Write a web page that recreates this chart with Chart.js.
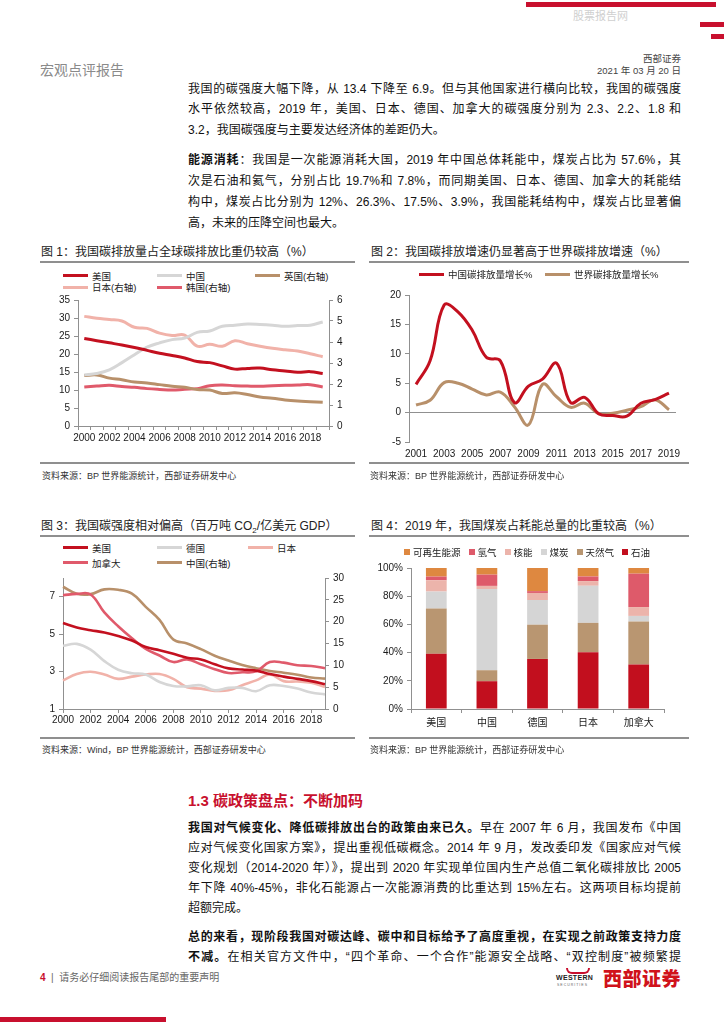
<!DOCTYPE html>
<html>
<head>
<meta charset="utf-8">
<script src="https://cdn.jsdelivr.net/npm/chart.js@4.4.1/dist/chart.umd.min.js"></script>
<style>
body { margin:0; width:724px; height:1024px; position:relative; background:#fff; overflow:hidden;
  font-family:"Liberation Sans","Noto Sans CJK SC",sans-serif; color:#111; }
.abs { position:absolute; }
.ln { position:absolute; left:188px; width:493px; height:20px; line-height:20px; font-size:12px;
  white-space:nowrap; text-align:justify; text-align-last:justify; }
.ln.last { text-align-last:left; }
.ttl { position:absolute; font-size:12px; color:#222; line-height:14px; white-space:nowrap; }
.rule { position:absolute; height:2px; background:#8f8f8f; }
.src { position:absolute; font-size:9px; color:#333; white-space:nowrap; }
canvas { position:absolute; }
.lg { display:flex; align-items:center; font-size:9.5px; color:#222; white-space:nowrap; }
.lg i { display:inline-block; width:25px; height:3px; margin-right:4px; }
.sq i { width:6px; height:6px; margin-right:3px; }
</style>
</head>
<body>

<!-- header -->
<div class="abs" style="left:526px;top:2px;width:190px;height:5px;background:#c8102e"></div>
<div class="abs" style="left:573px;top:7px;font-size:11px;color:#cfcfcf">股票报告网</div>
<div class="abs" style="left:700px;top:22px;width:24px;height:5px;background:#c8102e"></div>
<div class="abs" style="left:711px;top:34px;width:13px;height:5px;background:#c8102e"></div>
<div class="abs" style="left:40px;top:59px;font-size:14px;color:#8a8a8a">宏观点评报告</div>
<div class="abs" style="right:43px;top:51px;font-size:9.5px;color:#444">西部证券</div>
<div class="abs" style="right:43px;top:63px;font-size:9.5px;color:#444">2021 年 03 月 20 日</div>

<!-- paragraphs top -->
<div class="ln" style="top:79px">我国的碳强度大幅下降，从 13.4 下降至 6.9。但与其他国家进行横向比较，我国的碳强度</div>
<div class="ln" style="top:99px">水平依然较高，2019 年，美国、日本、德国、加拿大的碳强度分别为 2.3、2.2、1.8 和</div>
<div class="ln last" style="top:120px">3.2，我国碳强度与主要发达经济体的差距仍大。</div>
<div class="ln" style="top:150px"><b>能源消耗</b>：我国是一次能源消耗大国，2019 年中国总体耗能中，煤炭占比为 57.6%，其</div>
<div class="ln" style="top:171px">次是石油和氦气，分别占比 19.7%和 7.8%，而同期美国、日本、德国、加拿大的耗能结</div>
<div class="ln" style="top:192px">构中，煤炭占比分别为 12%、26.3%、17.5%、3.9%，我国能耗结构中，煤炭占比显著偏</div>
<div class="ln last" style="top:213px">高，未来的压降空间也最大。</div>

<!-- figure 1 -->
<div class="ttl" style="left:41px;top:245px">图 1：我国碳排放量占全球碳排放比重仍较高（%）</div>
<div class="rule" style="left:40px;top:261px;width:315px"></div>
<div id="lg1" class="abs" style="left:63px;top:270px;display:grid;grid-template-columns:94px 98px auto;grid-auto-rows:11.5px"></div>
<canvas id="c1" width="340" height="170" style="left:30px;top:290px"></canvas>
<div class="rule" style="left:40px;top:462px;width:315px"></div>
<div class="src" style="left:42px;top:469px">资料来源：BP 世界能源统计，西部证券研发中心</div>

<!-- figure 2 -->
<div class="ttl" style="left:371px;top:245px">图 2：我国碳排放增速仍显著高于世界碳排放增速（%）</div>
<div class="rule" style="left:369px;top:261px;width:320px"></div>
<div id="lg2" class="abs" style="left:419px;top:268px;display:grid;grid-template-columns:126px auto;grid-auto-rows:12px"></div>
<canvas id="c2" width="320" height="185" style="left:370px;top:285px"></canvas>
<div class="rule" style="left:369px;top:462px;width:320px"></div>
<div class="src" style="left:370px;top:469px">资料来源：BP 世界能源统计，西部证券研发中心</div>

<!-- figure 3 -->
<div class="ttl" style="left:41px;top:519px">图 3：我国碳强度相对偏高（百万吨 CO<sub style="font-size:8px">2</sub>/亿美元 GDP）</div>
<div class="rule" style="left:40px;top:535px;width:315px"></div>
<div id="lg3" class="abs" style="left:63px;top:540px;display:grid;grid-template-columns:94px 91px auto;grid-auto-rows:15px"></div>
<canvas id="c3" width="340" height="160" style="left:30px;top:568px"></canvas>
<div class="rule" style="left:40px;top:737px;width:315px"></div>
<div class="src" style="left:42px;top:743px">资料来源：Wind，BP 世界能源统计，西部证券研发中心</div>

<!-- figure 4 -->
<div class="ttl" style="left:371px;top:519px">图 4：2019 年，我国煤炭占耗能总量的比重较高（%）</div>
<div class="rule" style="left:369px;top:535px;width:320px"></div>
<div id="lg4" class="abs" style="left:404px;top:546px;display:flex;gap:8px;height:11px"></div>
<canvas id="c4" width="330" height="175" style="left:360px;top:558px"></canvas>
<div class="rule" style="left:369px;top:737px;width:320px"></div>
<div class="src" style="left:370px;top:743px">资料来源：BP 世界能源统计，西部证券研发中心</div>

<!-- section 1.3 -->
<div class="abs" style="left:188px;top:789px;font-size:15px;font-weight:bold;color:#c8102e">1.3 碳政策盘点：不断加码</div>
<div class="ln" style="top:818px"><b>我国对气候变化、降低碳排放出台的政策由来已久。</b>早在 2007 年 6 月，我国发布《中国</div>
<div class="ln" style="top:838px">应对气候变化国家方案》，提出重视低碳概念。2014 年 9 月，发改委印发《国家应对气候</div>
<div class="ln" style="top:858px">变化规划（2014-2020 年）》，提出到 2020 年实现单位国内生产总值二氧化碳排放比 2005</div>
<div class="ln" style="top:878px">年下降 40%-45%，非化石能源占一次能源消费的比重达到 15%左右。这两项目标均提前</div>
<div class="ln last" style="top:898px">超额完成。</div>
<div class="ln" style="top:927px"><b>总的来看，现阶段我国对碳达峰、碳中和目标给予了高度重视，在实现之前政策支持力度</b></div>
<div class="ln" style="top:947px"><b>不减。</b>在相关官方文件中，“四个革命、一个合作”能源安全战略、“双控制度”被频繁提</div>

<!-- footer -->
<div class="abs" style="left:40px;top:969px;font-size:10px;color:#666;white-space:nowrap"><b style="color:#c8102e">4</b> &nbsp;|&nbsp; 请务必仔细阅读报告尾部的重要声明</div>
<div class="abs" style="left:566px;top:968px;width:20px;height:4px;border:2.5px solid #c8102e;border-top:none;border-radius:0 0 10px 10px"></div>
<div class="abs" style="left:556px;top:974px;font-size:7px;font-weight:bold;color:#222;letter-spacing:0.3px">WESTERN</div>
<div class="abs" style="left:557px;top:983px;font-size:3.5px;color:#666;letter-spacing:1px">SECURITIES</div>
<div class="abs" style="left:603px;top:964px;font-size:19px;font-weight:900;color:#d0121b;letter-spacing:0.5px">西部证券</div>
<div class="abs" style="left:0;top:1017px;width:166px;height:5px;background:#c8102e"></div>

<script>
const RED = '#c3101f';
const GRAY = '#d6d6d6';
const TAN = '#b8906a';
const PINK = '#f1b2a9';
const ROSE = '#e05a6b';
const ORANGE = '#de8840';
const AX = '#909090';

// 图1 碳排放量占全球比重（%），左轴美国/中国，右轴英国/日本/韩国
const years = ['2000','2001','2002','2003','2004','2005','2006','2007','2008','2009',
  '2010','2011','2012','2013','2014','2015','2016','2017','2018','2019'];
const usShare = [24.3,23.7,23.1,22.5,21.8,21.0,20.2,19.6,18.9,17.9,17.6,16.7,15.8,16.0,16.1,15.6,15.3,14.9,15.1,14.6];
const chinaShare = [14.2,14.6,15.6,17.6,19.8,21.9,23.1,24.0,24.4,26.0,26.4,27.7,28.0,28.3,28.2,28.0,27.7,27.9,28.0,28.9];
const ukShare = [2.40,2.43,2.28,2.20,2.09,2.05,1.97,1.89,1.84,1.74,1.71,1.55,1.58,1.50,1.38,1.32,1.24,1.19,1.16,1.13];
const japanShare = [5.22,5.13,5.07,5.00,4.70,4.65,4.42,4.31,4.33,3.80,3.89,3.80,4.06,3.92,3.80,3.70,3.63,3.57,3.44,3.30];
const koreaShare = [1.86,1.90,1.94,1.88,1.84,1.78,1.74,1.71,1.75,1.78,1.92,1.95,1.92,1.90,1.89,1.92,1.94,1.95,1.97,1.86];

// 图2 碳排放量增速（%）
const growthYears = ['2001','2002','2003','2004','2005','2006','2007','2008','2009','2010',
  '2011','2012','2013','2014','2015','2016','2017','2018','2019'];
const chinaGrowth = [4.8,8.8,18.3,17.1,14.0,9.4,8.8,1.7,4.5,5.7,8.4,1.7,2.6,-0.2,-0.5,-0.6,1.6,2.2,3.3];
const worldGrowth = [1.3,2.1,5.1,5.0,4.0,3.0,3.5,1.0,-2.1,4.8,2.7,0.9,1.6,-0.2,-0.1,0.4,1.0,2.2,0.5];

// 图3 碳强度（百万吨CO2/亿美元GDP）
const usInt = [5.59,5.35,5.21,5.09,4.90,4.66,4.31,4.14,3.95,3.74,3.65,3.39,3.17,3.11,3.05,2.87,2.73,2.61,2.49,2.32];
const deInt = [4.38,4.48,4.17,3.56,3.10,2.91,2.84,2.44,2.23,2.21,2.27,2.00,2.13,2.13,1.95,2.27,2.23,2.09,1.88,1.78];
const jpInt = [2.53,2.87,2.99,2.84,2.61,2.73,2.84,2.87,2.61,2.16,2.09,1.97,2.00,2.27,2.53,2.84,2.49,2.47,2.40,2.18];
const caInt = [7.08,7.15,7.12,6.16,5.42,4.78,4.21,3.86,3.51,3.65,3.39,3.13,2.92,2.96,3.01,3.51,3.48,3.34,3.30,3.18];
const cnInt = [28.0,26.4,26.3,27.4,27.3,26.4,23.4,20.4,15.9,15.0,13.7,12.2,11.1,10.1,9.35,8.7,8.3,7.85,7.2,6.96];
const intTicks = [1,3,5,7];

// 图4 2019年一次能源结构（%）
const countries = ['美国','中国','德国','日本','加拿大'];
const oil = [39.1,19.7,35.5,40.3,31.5];
const gas = [32.2,7.8,24.3,20.8,30.6];
const coal = [12.0,57.6,17.5,26.3,3.9];
const nuclear = [8.0,2.2,5.0,3.3,6.3];
const hydro = [2.6,8.0,1.3,3.3,23.7];
const renew = [6.1,4.7,16.4,6.0,4.0];

Chart.defaults.font.family = '"Liberation Sans","Noto Sans CJK SC",sans-serif';
Chart.defaults.font.size = 10;
Chart.defaults.color = '#1a1a1a';
Chart.defaults.animation = false;
Chart.defaults.plugins.legend.display = false;
Chart.defaults.plugins.tooltip.enabled = false;

function fixW(w) { return s => { s.width = w; }; }
function fixH(h) { return s => { s.height = h; }; }
const axisGrid = { drawOnChartArea:false, tickLength:4, color:AX };
const everyOther = arr => (v, i) => i % 2 === 0 ? arr[i] : '';

function lineLegend(chart, id, square, reverse) {
  const box = document.getElementById(id);
  let list = chart.data.datasets.slice();
  if (reverse) list.reverse();
  list.forEach(ds => {
    const item = document.createElement('div');
    item.className = square ? 'lg sq' : 'lg';
    const c = square ? ds.backgroundColor : ds.borderColor;
    item.innerHTML = '<i style="background:' + c + '"></i>' + ds.label;
    box.appendChild(item);
  });
}

// chart 1
const chart1 = new Chart(document.getElementById('c1'), {
  type: 'line',
  data: {
    labels: years,
    datasets: [
      { label:'美国', data:usShare, borderColor:RED, yAxisID:'y' },
      { label:'中国', data:chinaShare, borderColor:GRAY, yAxisID:'y' },
      { label:'英国(右轴)', data:ukShare, borderColor:TAN, yAxisID:'y1' },
      { label:'日本(右轴)', data:japanShare, borderColor:PINK, yAxisID:'y1' },
      { label:'韩国(右轴)', data:koreaShare, borderColor:ROSE, yAxisID:'y1' }
    ]
  },
  options: {
    responsive:false,
    layout:{ padding:{ top:9 } },
    elements:{ line:{ borderWidth:3, tension:0.4 }, point:{ radius:0 } },
    scales: {
      x: { offset:true, grid:{ ...axisGrid, offset:true }, border:{ color:AX },
        ticks:{ autoSkip:false, maxRotation:0, padding:2, callback:everyOther(years) }, afterFit:fixH(34) },
      y: { min:0, max:35, ticks:{ stepSize:5, padding:4 }, grid:axisGrid, border:{ color:AX }, afterFit:fixW(48) },
      y1: { position:'right', min:0, max:6, ticks:{ stepSize:1, padding:4 }, grid:axisGrid, border:{ color:AX }, afterFit:fixW(41) }
    }
  }
});
lineLegend(chart1, 'lg1');

// chart 2
const chart2 = new Chart(document.getElementById('c2'), {
  type: 'line',
  data: {
    labels: growthYears,
    datasets: [
      { label:'中国碳排放量增长%', data:chinaGrowth, borderColor:RED },
      { label:'世界碳排放量增长%', data:worldGrowth, borderColor:TAN }
    ]
  },
  options: {
    responsive:false,
    layout:{ padding:{ top:9, right:14 } },
    elements:{ line:{ borderWidth:3, tension:0.4 }, point:{ radius:0 } },
    scales: {
      x: { offset:true, grid:{ display:false, drawTicks:false }, border:{ display:false },
        ticks:{ autoSkip:false, maxRotation:0, padding:6, callback:everyOther(growthYears) }, afterFit:fixH(28) },
      y: { min:-5, max:20, ticks:{ stepSize:5, padding:4 },
        grid:{ tickLength:4, color:ctx => ctx.tick && ctx.tick.value === 0 ? AX : 'rgba(0,0,0,0)', tickColor:AX },
        border:{ color:AX }, afterFit:fixW(39) }
    }
  }
});
lineLegend(chart2, 'lg2');

// chart 3
const chart3 = new Chart(document.getElementById('c3'), {
  type: 'line',
  data: {
    labels: years,
    datasets: [
      { label:'美国', data:usInt, borderColor:RED, yAxisID:'y' },
      { label:'德国', data:deInt, borderColor:GRAY, yAxisID:'y' },
      { label:'日本', data:jpInt, borderColor:PINK, yAxisID:'y' },
      { label:'加拿大', data:caInt, borderColor:ROSE, yAxisID:'y' },
      { label:'中国(右轴)', data:cnInt, borderColor:TAN, yAxisID:'y1' }
    ]
  },
  options: {
    responsive:false,
    layout:{ padding:{ top:9 } },
    elements:{ line:{ borderWidth:2.6, tension:0.4 }, point:{ radius:0 } },
    scales: {
      x: { offset:false,
        grid:{ drawOnChartArea:false, tickLength:4, color:AX, tickColor:ctx => ctx.index % 2 === 0 ? AX : 'rgba(0,0,0,0)' },
        border:{ color:AX },
        ticks:{ autoSkip:false, maxRotation:0, padding:1, callback:everyOther(years) }, afterFit:fixH(19) },
      y: { min:1, max:8, ticks:{ padding:4 }, grid:axisGrid, border:{ color:AX },
        afterBuildTicks: s => { s.ticks = intTicks.map(v => ({ value:v })); }, afterFit:fixW(33) },
      y1: { position:'right', min:0, max:30, ticks:{ stepSize:5, padding:4 }, grid:axisGrid, border:{ color:AX }, afterFit:fixW(45) }
    }
  }
});
lineLegend(chart3, 'lg3');

// chart 4
const chart4 = new Chart(document.getElementById('c4'), {
  type: 'bar',
  data: {
    labels: countries,
    datasets: [
      { label:'石油', data:oil, backgroundColor:'#c20f1e' },
      { label:'天然气', data:gas, backgroundColor:'#b99671' },
      { label:'煤炭', data:coal, backgroundColor:'#d5d5d5' },
      { label:'核能', data:nuclear, backgroundColor:'#ecb4ab' },
      { label:'氢气', data:hydro, backgroundColor:'#de5a6a' },
      { label:'可再生能源', data:renew, backgroundColor:ORANGE }
    ]
  },
  options: {
    responsive:false,
    layout:{ padding:{ top:8, right:26 } },
    datasets:{ bar:{ categoryPercentage:1, barPercentage:0.41 } },
    scales: {
      x: { stacked:true, grid:{ ...axisGrid, offset:true }, border:{ color:AX },
        ticks:{ padding:4 }, afterFit:fixH(24) },
      y: { stacked:true, min:0, max:100, ticks:{ stepSize:10, padding:4, callback:v => v + '%' },
        grid:axisGrid, border:{ color:AX }, afterFit:fixW(51) }
    }
  }
});
lineLegend(chart4, 'lg4', true, true);
</script>
</body>
</html>
